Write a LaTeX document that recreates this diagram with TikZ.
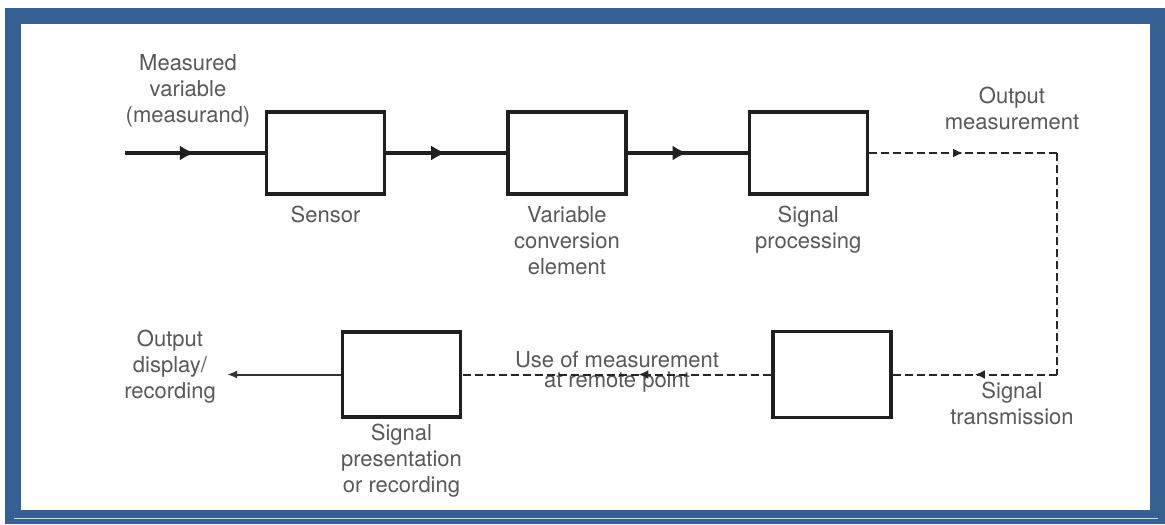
\documentclass[tikz,border=0pt]{standalone}
\usepackage{fontspec}
\setmainfont{TeX Gyre Heros}
\usetikzlibrary{positioning,arrows.meta,decorations.markings}

\definecolor{frameblue}{RGB}{54,96,145}
\definecolor{framelight}{RGB}{205,218,232}

\begin{document}
\begin{tikzpicture}[x=0.5pt, y=-0.5pt,
    block/.style = {draw=black!88, line width=1.7pt, minimum width=59pt, minimum height=41pt, inner sep=0pt},
    lbl/.style = {text=black!65, align=center, inner sep=0pt, font=\fontsize{11}{13}\selectfont},
    flow/.style = {draw=black!88, line width=1.8pt},
    dline/.style = {draw=black!85, line width=1pt, dash pattern=on 4pt off 2pt},
    midarrow/.style = {postaction={decorate}, decoration={markings, mark=at position #1 with {\arrow{Latex[length=7.5pt, width=7.5pt]}}}},
    midarrow/.default = 0.5,
    smallarrow/.style = {postaction={decorate}, decoration={markings, mark=at position #1 with {\arrow{Latex[length=5pt, width=4.5pt]}}}},
    smallarrow/.default = 0.5]

  % frame
  \useasboundingbox (0,0) rectangle (1165,524);
  \fill[white] (0,0) rectangle (1165,524);
  \fill[frameblue] (5,8) rectangle (1165,524);
  \fill[white] (21,24) rectangle (1150,510);
  \draw[framelight, line width=0.8pt] (14,518.5) -- (1158,518.5);

  % top row
  \draw node [block] at (325.5,153) (sensor) {};
  \draw node [block, right=60pt of sensor] (vce) {};
  \draw node [block, right=60pt of vce] (sp) {};
  \draw node [lbl, below=5pt of sensor] (sensorlbl) {Sensor};
  \draw node [lbl, below=5pt of vce] (vcelbl) {Variable\\conversion\\element};
  \draw node [lbl, below=5pt of sp] (splbl) {Signal\\processing};

  % bottom row
  \draw node [block, minimum height=43pt] at (832,374.5) (trans) {};
  \draw node [block, minimum height=42.5pt] at (401.5,374.5) (pres) {};
  \draw node [lbl, below=2.5pt of pres] (preslbl) {Signal\\presentation\\or recording};

  % free labels
  \draw node [lbl, anchor=north] at (188,54) (inlbl) {Measured\\variable\\(measurand)};
  \draw node [lbl, anchor=north] at (1012,87) (outlbl) {Output\\measurement};
  \draw node [lbl, anchor=north] at (1012,382) (translbl) {Signal\\transmission};
  \draw node [lbl, anchor=north, font=\fontsize{11}{10}\selectfont] at (617,351) (remotelbl) {Use of measurement\\at remote point};
  \draw node [lbl, anchor=north] at (170,330) (displbl) {Output\\display/\\recording};

  \coordinate (in) at (125,153);
  \coordinate (c1) at (1057,153);
  \coordinate (c2) at (1057,374.5);
  \coordinate (out) at (227,374.5);

  % connectors
  \draw[flow, midarrow] (in) -- (sensor);
  \draw[flow, midarrow] (sensor) -- (vce);
  \draw[flow, midarrow] (vce) -- (sp);
  \draw[dline, smallarrow] (sp) -- (c1);
  \draw[dline] (c1) -- (c2);
  \draw[dline, smallarrow] (c2) -- (trans);
  \draw[dline, smallarrow=0.43] (trans) -- (pres);
  \draw[black!80, line width=1pt, -{Latex[length=5pt, width=4pt]}] (pres) -- (out);
\end{tikzpicture}
\end{document}
